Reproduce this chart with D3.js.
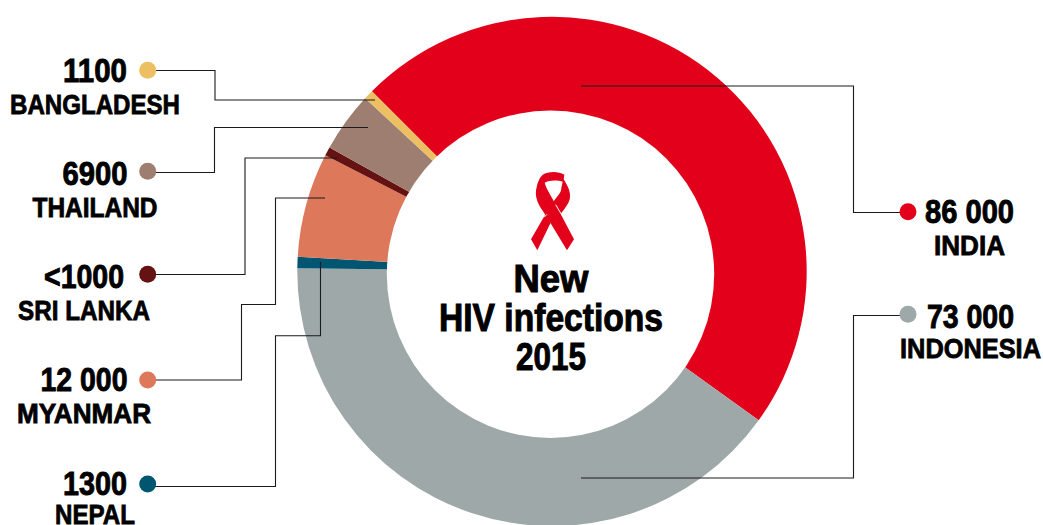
<!DOCTYPE html>
<html>
<head>
<meta charset="utf-8">
<script src="https://cdn.jsdelivr.net/npm/d3@7"></script>
<style>
    html, body { margin: 0; padding: 0; background: #fff; overflow: hidden; }
    text { font-family: "Liberation Sans", sans-serif; font-weight: bold; fill: #000; text-anchor: middle; }
    .value { font-size: 34px; stroke: #000; stroke-width: 0.9px; }
    .country { font-size: 28px; stroke: #000; stroke-width: 0.8px; }
    .title { font-size: 38.5px; stroke: #000; stroke-width: 1px; }
</style>
</head>
<body>
<div id="chart"></div>
<script>
// Data, clockwise from India
var countries = ["INDIA", "INDONESIA", "NEPAL", "MYANMAR", "SRI LANKA", "THAILAND", "BANGLADESH"];
var infections = [86000, 73000, 1300, 12000, 1000, 6900, 1100];
var valueLabels = ["86 000", "73 000", "1300", "12 000", "<1000", "6900", "1100"];
var titleLines = ["New", "HIV infections", "2015"];

var sliceColors = ["#e2001a", "#9fa8a9", "#005670", "#dd785a", "#651212", "#9e7e70", "#ecc062"];

// Chart params
var svgWidth = 1043;
var svgHeight = 525;
var centerX = 552;
var centerY = 271.4;
var outerRadius = 254.7;
// the hole is not quite concentric in the original
var holeX = 550.5;
var holeY = 274.2;
var holeRadius = 163.7;
var startDegrees = -45;

// Label placement, same order as countries
var labelX = [969.5, 970.5, 95, 84, 84, 95, 95];
var valueBaseline = [223, 328, 495, 391, 288, 185, 82];
var countryBaseline = [255, 358, 524, 423, 320, 217, 114];
var valueWidth = [89, 87, 64, 87, 80, 65, 64];
var countryWidth = [71, 141, 80, 134, 132, 125, 170];
var dotX = [908, 908, 147.7, 147.7, 147.7, 147.7, 147.7];
var dotY = [211.7, 314.3, 484, 380, 274.3, 171.3, 70.3];

// Leader lines from dot to slice
var leaders = [
    [[908, 212.5], [853.5, 212.5], [853.5, 86], [581, 86]],
    [[908, 315.5], [853.5, 315.5], [853.5, 478], [581, 478]],
    [[147.7, 486.5], [275.5, 486.5], [275.5, 335.7], [320.5, 335.7], [320.5, 262]],
    [[147.7, 380], [241.5, 380], [241.5, 304.5], [275.5, 304.5], [275.5, 198], [325, 198]],
    [[147.7, 274.5], [245, 274.5], [245, 158], [337, 158]],
    [[147.7, 172.5], [214.5, 172.5], [214.5, 127.5], [368, 127.5]],
    [[147.7, 70.5], [215, 70.5], [215, 100], [375, 100]]
];

// Centre title placement
var titleBaseline = [291.7, 331, 370];
var titleWidth = [75, 224, 70];

var svg = d3.select("#chart")
    .append("svg")
    .attr("width", svgWidth)
    .attr("height", svgHeight)
    .style("display", "block");

var color = d3.scaleOrdinal()
    .domain(countries)
    .range(sliceColors);

var startAngle = startDegrees * Math.PI / 180;

var pie = d3.pie()
    .sort(null)
    .startAngle(startAngle)
    .endAngle(startAngle + 2 * Math.PI)
    .value(d => d.value);

var arc = d3.arc()
    .innerRadius(0)
    .outerRadius(outerRadius);

var rows = countries.map((name, i) => ({ name: name, value: infections[i], index: i }));

// Donut
svg.append("g")
    .attr("transform", `translate(${centerX}, ${centerY})`)
    .selectAll("path")
    .data(pie(rows))
    .join("path")
    .attr("d", arc)
    .attr("fill", d => color(d.data.name));

svg.append("circle")
    .attr("cx", holeX)
    .attr("cy", holeY)
    .attr("r", holeRadius)
    .attr("fill", "#fff");

// Leader lines
var line = d3.line();

svg.append("g")
    .selectAll("path")
    .data(leaders)
    .join("path")
    .attr("d", line)
    .attr("fill", "none")
    .attr("stroke", "#1a1a1a")
    .attr("stroke-width", 1.1);

// Dots
svg.append("g")
    .selectAll("circle")
    .data(rows)
    .join("circle")
    .attr("cx", d => dotX[d.index])
    .attr("cy", d => dotY[d.index])
    .attr("r", 8.5)
    .attr("fill", d => color(d.name));

// Labels, squeezed to the condensed widths of the original
svg.append("g")
    .selectAll("text")
    .data(rows)
    .join("text")
    .attr("class", "value")
    .attr("x", d => labelX[d.index])
    .attr("y", d => valueBaseline[d.index])
    .attr("textLength", d => valueWidth[d.index])
    .attr("lengthAdjust", "spacingAndGlyphs")
    .text(d => valueLabels[d.index]);

svg.append("g")
    .selectAll("text")
    .data(rows)
    .join("text")
    .attr("class", "country")
    .attr("x", d => labelX[d.index])
    .attr("y", d => countryBaseline[d.index])
    .attr("textLength", d => countryWidth[d.index])
    .attr("lengthAdjust", "spacingAndGlyphs")
    .text(d => d.name);

// Centre title
svg.append("g")
    .selectAll("text")
    .data(titleLines)
    .join("text")
    .attr("class", "title")
    .attr("x", 551)
    .attr("y", (d, i) => titleBaseline[i])
    .attr("textLength", (d, i) => titleWidth[i])
    .attr("lengthAdjust", "spacingAndGlyphs")
    .text(d => d);

// Ribbon, traced at 3x from the crop so scaled back down
var ribbon = svg.append("g")
    .attr("transform", "translate(500, 160) scale(0.3333)")
    .attr("fill", "#e2001a");

// strand running to the lower left foot
ribbon.append("path")
    .attr("d", "M190,56 C204,78 214,98 209,118 C205,134 192,148 182,162 L160,172 L112,271 L93,238 L132,170 L160,125 C174,106 184,98 184,84 Z");

// strand running to the lower right foot, with the loop on top
ribbon.append("path")
    .attr("d", "M128,44 C145,33 175,33 193,44 L190,66 C172,60 148,60 134,68 C138,84 150,102 165,130 L222,238 L201,271 L140,170 L120,140 C108,120 105,100 110,82 C112,70 116,62 120,54 Z");

// thin white gaps where the strands cross
ribbon.append("path")
    .attr("d", "M167,134 L186,166 M132,172 L141,163")
    .attr("fill", "none")
    .attr("stroke", "#fff")
    .attr("stroke-width", 3);
</script>
</body>
</html>
